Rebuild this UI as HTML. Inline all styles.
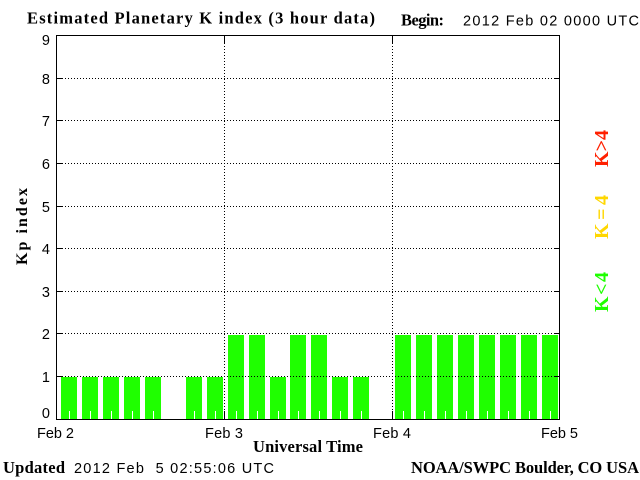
<!DOCTYPE html>
<html>
<head>
<meta charset="utf-8">
<style>
html,body{margin:0;padding:0;background:#fff;}
svg{display:block;}
.s{font-family:"Liberation Sans",sans-serif;font-size:14.5px;fill:#000;white-space:pre;}
.b{font-family:"Liberation Serif",serif;font-weight:bold;font-size:16.5px;fill:#000;white-space:pre;}
</style>
</head>
<body>
<svg width="640" height="480" viewBox="0 0 640 480" xmlns="http://www.w3.org/2000/svg">
<rect width="640" height="480" fill="#fff"/>
<!-- title -->
<text class="b" x="27" y="23.5" textLength="348" lengthAdjust="spacing">Estimated Planetary K index (3 hour data)</text>
<text class="b" x="401" y="25.5" textLength="43" lengthAdjust="spacing">Begin:</text>
<text class="s" x="463" y="25.5" textLength="176" lengthAdjust="spacing">2012 Feb 02 0000 UTC</text>

<!-- bars -->
<g fill="#1fff00">
<rect x="61" y="377" width="16" height="42"/>
<rect x="82" y="377" width="16" height="42"/>
<rect x="103" y="377" width="16" height="42"/>
<rect x="124" y="377" width="16" height="42"/>
<rect x="145" y="377" width="16" height="42"/>
<rect x="186" y="377" width="16" height="42"/>
<rect x="207" y="377" width="16" height="42"/>
<rect x="228" y="335" width="16" height="84"/>
<rect x="249" y="335" width="16" height="84"/>
<rect x="270" y="377" width="16" height="42"/>
<rect x="290" y="335" width="16" height="84"/>
<rect x="311" y="335" width="16" height="84"/>
<rect x="332" y="377" width="16" height="42"/>
<rect x="353" y="377" width="16" height="42"/>
<rect x="395" y="335" width="16" height="84"/>
<rect x="416" y="335" width="16" height="84"/>
<rect x="437" y="335" width="16" height="84"/>
<rect x="458" y="335" width="16" height="84"/>
<rect x="479" y="335" width="16" height="84"/>
<rect x="500" y="335" width="16" height="84"/>
<rect x="521" y="335" width="16" height="84"/>
<rect x="542" y="335" width="16" height="84"/>
</g>
<!-- white ticks inside bars -->
<g stroke="#fff" stroke-width="1">
<path d="M69.5 411V419M90.5 411V419M111.5 411V419M132.5 411V419M153.5 411V419M194.5 411V419M215.5 411V419M236.5 411V419M257.5 411V419M278.5 411V419M298.5 411V419M319.5 411V419M340.5 411V419M361.5 411V419M403.5 411V419M424.5 411V419M445.5 411V419M466.5 411V419M487.5 411V419M508.5 411V419M529.5 411V419M550.5 411V419"/>
</g>

<!-- grid dotted -->
<g stroke="#000" stroke-width="1" stroke-dasharray="1 2" fill="none">
<path d="M62 376.5H554M62 333.5H554M62 291.5H554M62 248.5H554M62 206.5H554M62 163.5H554M62 120.5H554M62 78.5H554"/>
<path d="M224.5 43V411M392.5 43V411"/>
</g>
<!-- solid ticks -->
<g stroke="#000" stroke-width="1" fill="none">
<path d="M57 376.5H62M57 333.5H62M57 291.5H62M57 248.5H62M57 206.5H62M57 163.5H62M57 120.5H62M57 78.5H62"/>
<path d="M554 376.5H559M554 333.5H559M554 291.5H559M554 248.5H559M554 206.5H559M554 163.5H559M554 120.5H559M554 78.5H559"/>
<path d="M224.5 35V43M392.5 35V43M224.5 411V419M392.5 411V419"/>
<rect x="56.5" y="35.5" width="503" height="384"/>
</g>

<!-- y labels -->
<g class="s" text-anchor="end">
<text x="50" y="418">0</text>
<text x="50" y="382">1</text>
<text x="50" y="339">2</text>
<text x="50" y="297">3</text>
<text x="50" y="254">4</text>
<text x="50" y="212">5</text>
<text x="50" y="169">6</text>
<text x="50" y="126">7</text>
<text x="50" y="84">8</text>
<text x="50" y="45">9</text>
</g>
<text class="b" style="font-size:16px" transform="translate(27,265) rotate(-90)" x="0" y="0" textLength="77" lengthAdjust="spacing">Kp index</text>

<!-- x labels -->
<text class="s" x="37" y="438" textLength="37" lengthAdjust="spacing">Feb 2</text>
<text class="s" x="205" y="438" textLength="38" lengthAdjust="spacing">Feb 3</text>
<text class="s" x="373" y="438" textLength="38" lengthAdjust="spacing">Feb 4</text>
<text class="s" x="541" y="438" textLength="37" lengthAdjust="spacing">Feb 5</text>
<text class="b" x="253" y="452" textLength="110" lengthAdjust="spacing">Universal Time</text>

<!-- right legend -->
<text class="b" style="font-size:20px;fill:#1fff00" transform="translate(608,312) rotate(-90)" textLength="40" lengthAdjust="spacing">K&lt;4</text>
<text class="b" style="font-size:20px;fill:#ffd700" transform="translate(608,239) rotate(-90)" textLength="44" lengthAdjust="spacing">K=4</text>
<text class="b" style="font-size:20px;fill:#ff2000" transform="translate(608,167) rotate(-90)" textLength="37" lengthAdjust="spacing">K&gt;4</text>

<!-- footer -->
<text class="b" x="3" y="473" textLength="62" lengthAdjust="spacing">Updated</text>
<text class="s" x="74" y="473" textLength="200" lengthAdjust="spacing">2012 Feb  5 02:55:06 UTC</text>
<text class="b" x="411" y="473" textLength="228" lengthAdjust="spacing">NOAA/SWPC Boulder, CO USA</text>
</svg>
</body>
</html>
